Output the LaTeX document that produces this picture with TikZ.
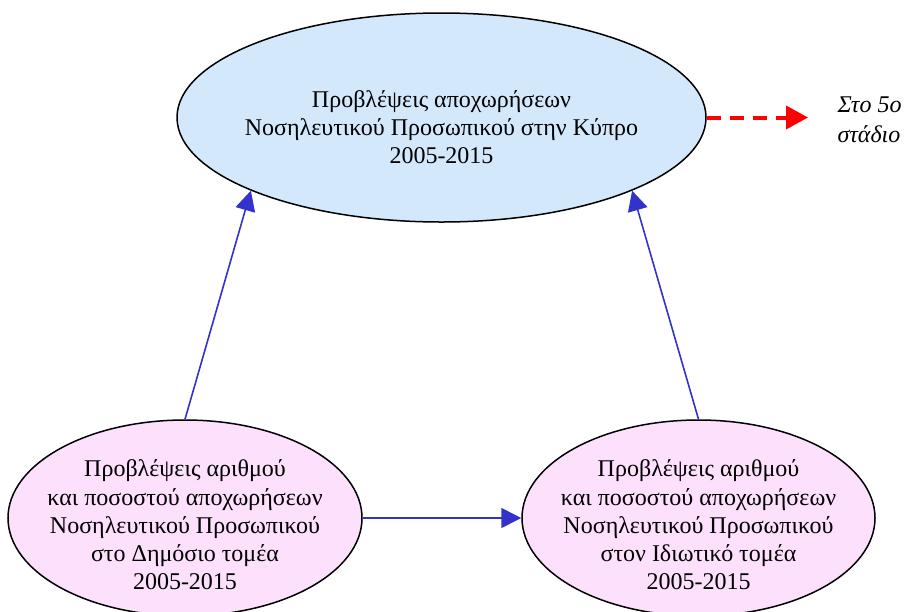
\documentclass[tikz,border=0pt]{standalone}
\usepackage{fontspec}
\setmainfont{Liberation Serif}
\usetikzlibrary{shapes.geometric,arrows.meta}
\definecolor{totalfill}{RGB}{212,232,252}
\definecolor{sectorfill}{RGB}{252,224,252}
\definecolor{linkblue}{RGB}{51,51,204}

\begin{document}
\begin{tikzpicture}[x=1pt,y=-1pt,
  oval/.style={ellipse,draw=black,line width=1.5pt,inner sep=0pt},
  ovaltext/.style={align=center,font=\fontsize{24}{28.2}\selectfont},
  link/.style={draw=linkblue,line width=1.6pt,-{Triangle[length=20pt,width=20pt]}}]
\useasboundingbox (0,0) rectangle (904,611);

\node[oval,fill=totalfill,minimum width=529pt,minimum height=209pt] (total) at (441.5,117.5) {};
\node[ovaltext] (totaltext) at (441.5,127) {Προβλέψεις αποχωρήσεων\\Νοσηλευτικού Προσωπικού στην Κύπρο\\2005-2015};

\node[oval,fill=sectorfill,minimum width=354pt,minimum height=196pt] (public) at (185,518) {};
\node[ovaltext] (publictext) at (185,525) {Προβλέψεις αριθμού\\και ποσοστού αποχωρήσεων\\Νοσηλευτικού Προσωπικού\\στο Δημόσιο τομέα\\2005-2015};

\node[oval,fill=sectorfill,minimum width=353pt,minimum height=196pt] (private) at (698.5,518) {};
\node[ovaltext] (privatetext) at (698.5,525) {Προβλέψεις αριθμού\\και ποσοστού αποχωρήσεων\\Νοσηλευτικού Προσωπικού\\στον Ιδιωτικό τομέα\\2005-2015};

\draw[link] (public.north) -- (total.201);
\draw[link] (private.north) -- (total.339);
\draw[link] (public.east) -- (private.west);

\coordinate (nextstage) at (808,117.5);
\draw[red,line width=4pt,dash pattern=on 14pt off 9pt,-{Triangle[length=22pt,width=23pt]}] (total.east) -- (nextstage);
\node[anchor=west,align=left,font=\itshape\fontsize{24}{30}\selectfont] (stage) at (834,120) {Στο 5ο\\στάδιο};

\end{tikzpicture}
\end{document}
